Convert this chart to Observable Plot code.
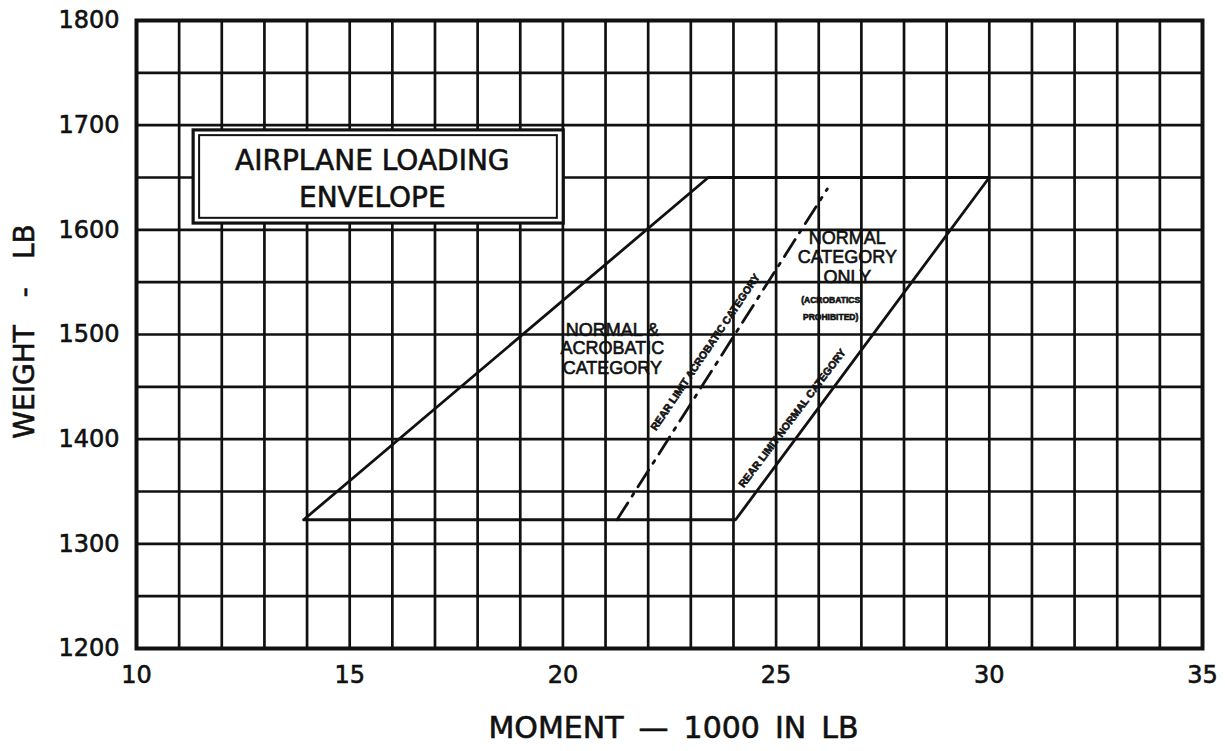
<!DOCTYPE html>
<html>
<head>
<meta charset="utf-8">
<script src="https://cdn.jsdelivr.net/npm/d3@7"></script>
<script src="https://cdn.jsdelivr.net/npm/@observablehq/plot@0.6"></script>
<style>
  html, body { margin: 0; padding: 0; background: #fff; }
  #chart svg { display: block; }
  #chart svg text { stroke: #111; stroke-width: 0.6px; }
  g[aria-label="x-title"] text { letter-spacing: 2.7px; }
  g[aria-label="y-title"] text { letter-spacing: 1px; }
  g[aria-label="box-title"] text { letter-spacing: 2.5px; }
  g[aria-label="small-note"] text { letter-spacing: 0.6px; stroke-width: 0.2px; }
  g[aria-label="limit-label"] text { stroke-width: 0.2px; }
</style>
</head>
<body>
<div id="chart"></div>
<script>
// ---- Axis ticks and grid ----
const xTicks = [10, 15, 20, 25, 30, 35];
const yTicks = [1200, 1300, 1400, 1500, 1600, 1700, 1800];
const xGrid = [10, 11, 12, 13, 14, 15, 16, 17, 18, 19, 20, 21, 22, 23, 24, 25, 26, 27, 28, 29, 30, 31, 32, 33, 34, 35];
const yGrid = [1200, 1250, 1300, 1350, 1400, 1450, 1500, 1550, 1600, 1650, 1700, 1750, 1800];

// ---- Loading envelope (moment in 1000 in-lb, weight in lb) ----
const envelopeMoment = [13.92, 23.41, 30.0, 24.05, 13.92];
const envelopeWeight = [1323, 1650, 1650, 1323, 1323];

// ---- Rear limit, acrobatic category (dashed) ----
const acroLimitMoment = [21.27, 26.2];
const acroLimitWeight = [1323, 1639];

// ---- Texts ----
const xTitle = "MOMENT\u2002\u2014\u20021000\u2002IN\u2002LB";
const yTitle = "WEIGHT\u2003-\u2003LB";
const boxTitleLines = ["AIRPLANE LOADING", "ENVELOPE"];
const normalAcroLines = ["NORMAL &", "ACROBATIC", "CATEGORY"];
const normalOnlyLines = ["NORMAL", "CATEGORY", "ONLY"];
const noteLines = ["(ACROBATICS", "PROHIBITED)"];
const acroLimitLabel = "REAR LIMIT ACROBATIC CATEGORY";
const normalLimitLabel = "REAR LIMIT NORMAL CATEGORY";

// ---- Annotation placement (data coordinates) ----
const boxOuter = {x1: 11.34, x2: 20.02, y1: 1606, y2: 1695};
const boxInner = {x1: 11.48, x2: 19.87, y1: 1611, y2: 1690};
const boxTitlePos = {x: [15.53, 15.53], y: [1666, 1630]};
const normalAcroPos = {x: [21.16, 21.16, 21.16], y: [1504, 1486.5, 1467.5]};
const normalOnlyPos = {x: [26.67, 26.67, 26.67], y: [1591.5, 1573.5, 1554.5]};
const notePos = {x: [26.28, 26.28], y: [1532.5, 1516]};
const acroLabelPos = {x: 23.34, y: 1483, rotate: -56};
const normalLabelPos = {x: 25.38, y: 1420, rotate: -53};

const ink = "#111";

const plot = Plot.plot({
  width: 1225,
  height: 751,
  marginLeft: 136,
  marginRight: 23,
  marginTop: 20,
  marginBottom: 103,
  style: {background: "#fff", fontFamily: "DejaVu Sans", color: ink},
  x: {domain: [10, 35]},
  y: {domain: [1200, 1800]},
  marks: [
    Plot.ruleX(xGrid, {x: d => d, stroke: ink, strokeWidth: 2.7}),
    Plot.ruleY(yGrid, {y: d => d, stroke: ink, strokeWidth: 2.7}),
    Plot.frame({stroke: ink, strokeWidth: 4}),
    Plot.axisX({ticks: xTicks, tickFormat: d => String(d), tickSize: 0, tickPadding: 17, fontSize: 24, label: null, fill: ink}),
    Plot.axisY({ticks: yTicks, tickFormat: d => String(d), tickSize: 0, tickPadding: 17, fontSize: 24, label: null, fill: ink}),
    // title box
    Plot.rect([boxOuter], {x1: "x1", x2: "x2", y1: "y1", y2: "y2", fill: "#fff", stroke: ink, strokeWidth: 3.2}),
    Plot.rect([boxInner], {x1: "x1", x2: "x2", y1: "y1", y2: "y2", fill: "none", stroke: ink, strokeWidth: 2}),
    Plot.text(boxTitleLines, {x: (d, i) => boxTitlePos.x[i], y: (d, i) => boxTitlePos.y[i], text: d => d,
      fontSize: 28, fill: ink, textAnchor: "middle", lineAnchor: "middle", ariaLabel: "box-title"}),
    // envelope
    Plot.line(envelopeMoment.map((m, i) => ({m, w: envelopeWeight[i]})),
      {x: "m", y: "w", stroke: ink, strokeWidth: 2.8, strokeLinejoin: "miter"}),
    Plot.line(acroLimitMoment.map((m, i) => ({m, w: acroLimitWeight[i]})),
      {x: "m", y: "w", stroke: ink, strokeWidth: 2.8, strokeDasharray: "20,8,3,8"}),
    // region labels
    Plot.text(normalAcroLines, {x: (d, i) => normalAcroPos.x[i], y: (d, i) => normalAcroPos.y[i], text: d => d,
      fontSize: 18, fontFamily: "Liberation Sans", fill: ink, textAnchor: "middle", lineAnchor: "middle"}),
    Plot.text(normalOnlyLines, {x: (d, i) => normalOnlyPos.x[i], y: (d, i) => normalOnlyPos.y[i], text: d => d,
      fontSize: 18, fontFamily: "Liberation Sans", fill: ink, textAnchor: "middle", lineAnchor: "middle"}),
    Plot.text(noteLines, {x: (d, i) => notePos.x[i], y: (d, i) => notePos.y[i], text: d => d,
      fontSize: 8.5, fontWeight: "bold", fontFamily: "Liberation Sans", fill: ink, textAnchor: "middle", lineAnchor: "middle", ariaLabel: "small-note"}),
    Plot.text([acroLimitLabel], {x: () => acroLabelPos.x, y: () => acroLabelPos.y, text: d => d, rotate: acroLabelPos.rotate,
      fontSize: 10.5, fontWeight: "bold", fontFamily: "Liberation Sans", fill: ink, textAnchor: "middle", lineAnchor: "middle", ariaLabel: "limit-label"}),
    Plot.text([normalLimitLabel], {x: () => normalLabelPos.x, y: () => normalLabelPos.y, text: d => d, rotate: normalLabelPos.rotate,
      fontSize: 10.5, fontWeight: "bold", fontFamily: "Liberation Sans", fill: ink, textAnchor: "middle", lineAnchor: "middle", ariaLabel: "limit-label"}),
    // axis titles
    Plot.text([xTitle], {frameAnchor: "bottom", dy: 80, dx: 4, text: d => d, fontSize: 30, fill: ink,
      textAnchor: "middle", lineAnchor: "middle", ariaLabel: "x-title"}),
    Plot.text([yTitle], {frameAnchor: "left", dx: -111, dy: -3, rotate: -90, text: d => d, fontSize: 28, fill: ink,
      textAnchor: "middle", lineAnchor: "middle", ariaLabel: "y-title"})
  ]
});

document.getElementById("chart").appendChild(plot);
</script>
</body>
</html>
